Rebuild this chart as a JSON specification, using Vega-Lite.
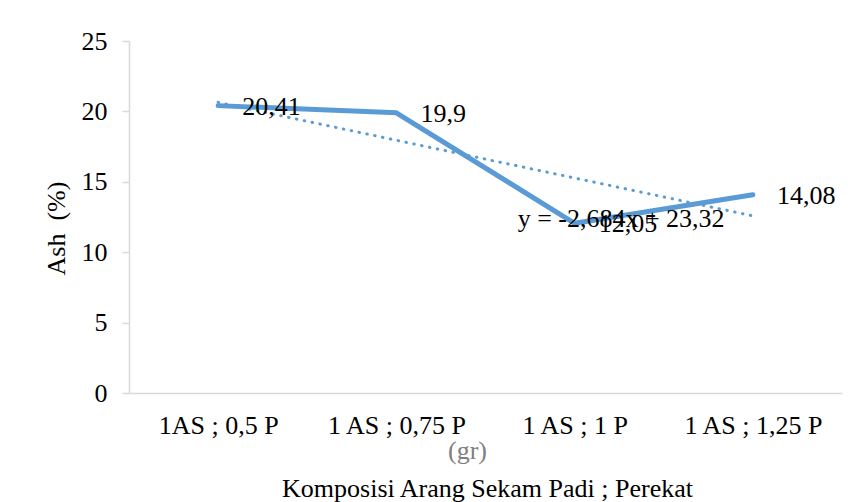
{
  "$schema": "https://vega.github.io/schema/vega-lite/v6.json",
  "autosize": {"type": "none"},
  "width": 713,
  "height": 352,
  "padding": {"left": 129, "top": 41, "right": 16, "bottom": 109},
  "background": "white",
  "config": {
    "view": {"stroke": null},
    "font": "Liberation Serif",
    "axis": {"grid": false}
  },
  "title": {
    "text": "Komposisi Arang Sekam Padi ; Perekat",
    "orient": "bottom",
    "frame": "group",
    "anchor": "middle",
    "baseline": "alphabetic",
    "offset": 34,
    "font": "Liberation Serif",
    "fontSize": 26,
    "fontWeight": "normal",
    "color": "#000000",
    "dx": 2
  },
  "datasets": {
    "main": [
      {"cat": "1AS ; 0,5 P", "ash": 20.41, "trend": 20.64, "label": "20,41"},
      {"cat": "1 AS ; 0,75 P", "ash": 19.9, "trend": 17.95, "label": "19,9"},
      {"cat": "1 AS ; 1 P", "ash": 12.05, "trend": 15.27, "label": "12,05"},
      {"cat": "1 AS ; 1,25 P", "ash": 14.08, "trend": 12.58, "label": "14,08"}
    ],
    "eq": [
      {"cat": "1 AS ; 1 P", "y": 11.78, "text": "y = -2,684x + 23,32"}
    ]
  },
  "data": {"name": "main"},
  "encoding": {
    "x": {
      "field": "cat",
      "type": "nominal",
      "sort": null,
      "scale": {"type": "point", "padding": 0.5},
      "axis": {
        "title": "(gr)",
        "titleColor": "#7f7f7f",
        "titleFont": "Liberation Serif",
        "titleFontSize": 26,
        "titleFontWeight": "normal",
        "titleX": 338,
        "titleY": 65,
        "titleAlign": "center",
        "titleBaseline": "alphabetic",
        "labelAngle": 0,
        "labelFont": "Liberation Serif",
        "labelFontSize": 26,
        "labelColor": "#000000",
        "labelBaseline": "alphabetic",
        "labelPadding": 40,
        "ticks": false,
        "tickSize": 0,
        "domainColor": "#d9d9d9",
        "domainWidth": 1.5
      }
    }
  },
  "layer": [
    {
      "mark": {"type": "line", "color": "#5b9bd5", "strokeWidth": 5, "strokeCap": "round", "strokeJoin": "round"},
      "encoding": {
        "y": {
          "field": "ash",
          "type": "quantitative",
          "scale": {"domain": [0, 25], "nice": false, "zero": true},
          "axis": {
            "title": "Ash \u00a0(%)",
            "titleFont": "Liberation Serif",
            "titleFontSize": 26,
            "titleFontWeight": "normal",
            "titleColor": "#000000",
            "titleX": -65,
            "titleY": 187,
            "titleAlign": "center",
            "titleBaseline": "alphabetic",
            "titleAngle": -90,
            "values": [0, 5, 10, 15, 20, 25],
            "labelFont": "Liberation Serif",
            "labelFontSize": 26,
            "labelColor": "#000000",
            "labelPadding": 15,
            "tickSize": 7,
            "tickColor": "#d9d9d9",
            "tickWidth": 1.5,
            "domainColor": "#d9d9d9",
            "domainWidth": 1.5
          }
        }
      }
    },
    {
      "mark": {"type": "line", "color": "#5b9bd5", "strokeWidth": 3, "strokeCap": "round", "strokeDash": [0.5, 7.5]},
      "encoding": {
        "y": {"field": "trend", "type": "quantitative", "scale": {"domain": [0, 25], "nice": false, "zero": true}}
      }
    },
    {
      "mark": {"type": "text", "align": "left", "baseline": "middle", "dx": 24, "dy": 1, "font": "Liberation Serif", "fontSize": 26, "color": "#000000"},
      "encoding": {
        "y": {"field": "ash", "type": "quantitative", "scale": {"domain": [0, 25], "nice": false, "zero": true}},
        "text": {"field": "label"}
      }
    },
    {
      "data": {"name": "eq"},
      "mark": {"type": "text", "align": "left", "baseline": "alphabetic", "dx": -57, "font": "Liberation Serif", "fontSize": 26, "color": "#000000"},
      "encoding": {
        "y": {"field": "y", "type": "quantitative", "scale": {"domain": [0, 25], "nice": false, "zero": true}},
        "text": {"field": "text"}
      }
    }
  ]
}
